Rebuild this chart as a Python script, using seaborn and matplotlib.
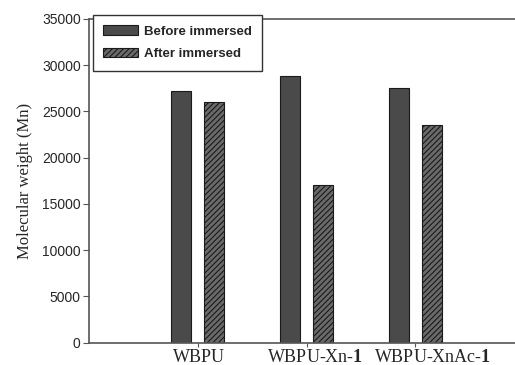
import pandas as pd
import seaborn as sns
import matplotlib.pyplot as plt
from matplotlib.transforms import ScaledTranslation

# values
samples = ["WBPU", "WBPU-Xn-1", "WBPU-XnAc-1"]
tick_labels = ["WBPU", r"WBPU-Xn-$\mathbf{1}$", r"WBPU-XnAc-$\mathbf{1}$"]
before_immersed = [27200, 28800, 27500]
after_immersed = [26000, 17000, 23500]
conditions = ["Before immersed", "After immersed"]

df = pd.DataFrame({
    "sample": samples * 2,
    "Mn": before_immersed + after_immersed,
    "condition": [conditions[0]] * 3 + [conditions[1]] * 3,
})

sns.set_style("ticks")
plt.rcParams["font.family"] = ["Liberation Sans", "DejaVu Sans"]
plt.rcParams["mathtext.fontset"] = "custom"
plt.rcParams["mathtext.bf"] = "Liberation Serif:bold"
plt.rcParams["hatch.color"] = "#2a2a2a"
plt.rcParams["hatch.linewidth"] = 0.8

fig = plt.figure(figsize=(5.15, 3.65), dpi=100)
ax = fig.add_axes([89 / 515, 1 - 342.7 / 365, 435 / 515, (342.7 - 19) / 365])

sns.barplot(data=df, x="sample", y="Mn", hue="condition", order=samples,
            hue_order=conditions, palette=["#4a4a4a", "#6a6a6a"],
            width=0.6, gap=0.39, edgecolor="#1a1a1a", linewidth=0.8,
            legend=False, ax=ax)

for bar in ax.containers[1]:
    bar.set_hatch("//////")

ax.set_xlim(-1, 3)
ax.set_ylim(0, 35000)
ax.set_yticks(range(0, 35001, 5000))
ax.set_xticks(range(3))
ax.set_xticklabels(tick_labels, family="Liberation Serif", fontsize=13)
ax.tick_params(axis="y", labelsize=10, length=4, color="#555555", pad=2)
ax.tick_params(axis="x", length=3, color="#555555", pad=1.5)
ax.set_xlabel("")
ax.set_ylabel("Molecular weight (Mn)", family="Liberation Serif", fontsize=12,
              labelpad=6)

# labels in the original sit a little right of their ticks
for lab, dx in zip(ax.get_xticklabels(), [1, 9, 17]):
    lab.set_transform(lab.get_transform() + ScaledTranslation(dx / 100, 0, fig.dpi_scale_trans))

for side in ["left", "bottom", "top", "right"]:
    ax.spines[side].set_visible(True)
    ax.spines[side].set_color("#555555")
    ax.spines[side].set_linewidth(1.2)

leg = ax.legend(ax.containers, conditions, loc="upper left",
                bbox_to_anchor=(93 / 515, 1 - 15 / 365),
                bbox_transform=fig.transFigure, borderaxespad=0,
                fancybox=False, framealpha=1, edgecolor="#333333",
                prop={"weight": "bold", "size": 9.5},
                handlelength=2.6, handleheight=0.7, labelspacing=0.8,
                handletextpad=0.5, borderpad=0.78)
leg.get_frame().set_linewidth(1.0)

fig.savefig("out.png", dpi=100)
